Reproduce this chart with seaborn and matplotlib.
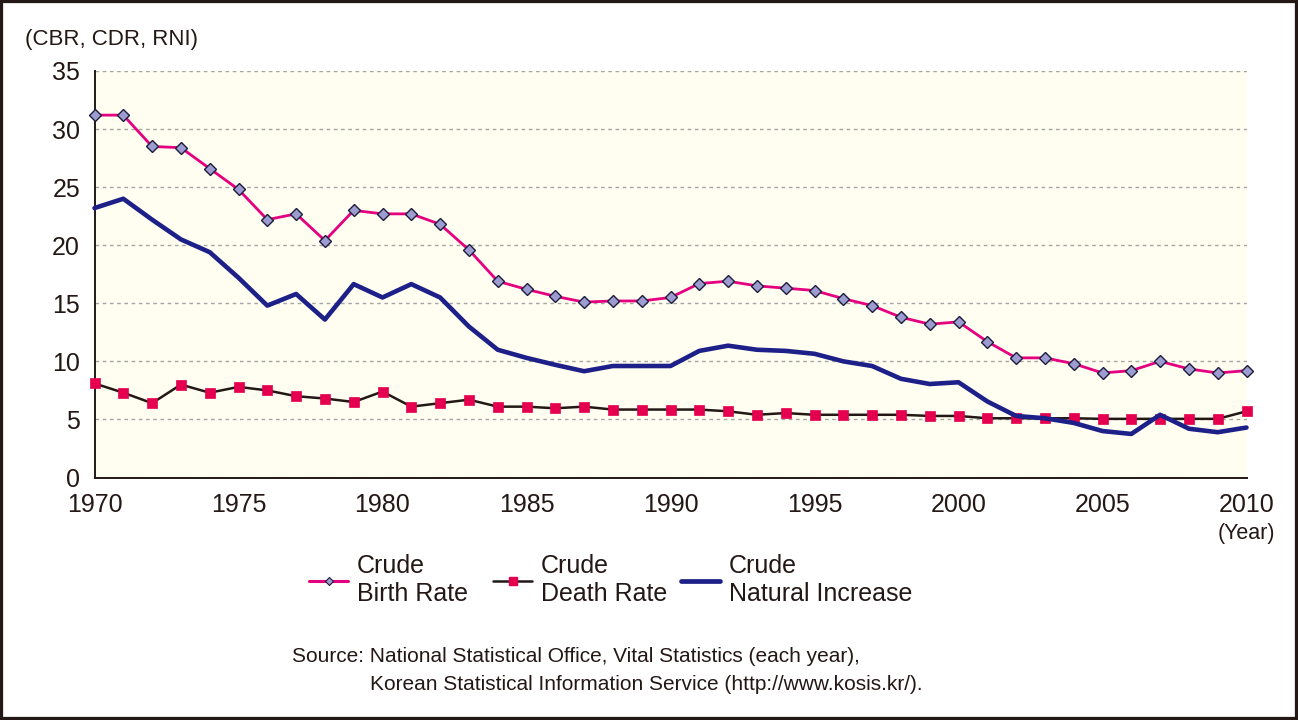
import matplotlib
matplotlib.use("Agg")
import matplotlib.pyplot as plt
import seaborn as sns
import pandas as pd
from matplotlib.lines import Line2D
from matplotlib.patches import Rectangle
from matplotlib import font_manager

# ---------------- data ----------------
years = list(range(1970, 2011))
crude_birth_rate = [31.2, 31.2, 28.5, 28.4, 26.6, 24.8, 22.2, 22.7, 20.4, 23.0,
                    22.7, 22.7, 21.8, 19.6, 16.9, 16.2, 15.6, 15.1, 15.2, 15.2,
                    15.5, 16.7, 16.9, 16.5, 16.3, 16.1, 15.4, 14.8, 13.8, 13.2,
                    13.4, 11.7, 10.3, 10.3, 9.8, 9.0, 9.2, 10.0, 9.35, 9.0, 9.2]
crude_death_rate = [8.1, 7.3, 6.4, 8.0, 7.3, 7.8, 7.5, 7.0, 6.8, 6.5,
                    7.4, 6.1, 6.4, 6.7, 6.1, 6.1, 5.96, 6.1, 5.85, 5.85,
                    5.85, 5.85, 5.7, 5.4, 5.55, 5.4, 5.4, 5.4, 5.4, 5.3,
                    5.3, 5.1, 5.1, 5.1, 5.1, 5.05, 5.05, 5.05, 5.05, 5.05, 5.7]
crude_natural_increase = [23.2, 24.0, 22.2, 20.5, 19.4, 17.2, 14.8, 15.8, 13.6, 16.65,
                          15.5, 16.65, 15.5, 13.0, 11.0, 10.3, 9.7, 9.15, 9.6, 9.6,
                          9.6, 10.9, 11.35, 11.0, 10.9, 10.65, 10.0, 9.6, 8.5, 8.05,
                          8.2, 6.55, 5.3, 5.1, 4.7, 4.0, 3.75, 5.4, 4.2, 3.9, 4.3]
series_labels = ["Crude\nBirth Rate", "Crude\nDeath Rate", "Crude\nNatural Increase"]
x_ticks = [1970, 1975, 1980, 1985, 1990, 1995, 2000, 2005, 2010]
y_ticks = [0, 5, 10, 15, 20, 25, 30, 35]
y_title = "(CBR, CDR, RNI)"
x_unit = "(Year)"
source_line1 = "Source: National Statistical Office, Vital Statistics (each year),"
source_line2 = "Korean Statistical Information Service (http://www.kosis.kr/)."

df = pd.DataFrame({"year": years, "cbr": crude_birth_rate,
                   "cdr": crude_death_rate, "rni": crude_natural_increase})

# ---------------- style ----------------
sns.set_style("white")
plt.rcParams["font.family"] = ["Liberation Sans", "DejaVu Sans"]
TXT = "#231815"
PINK = "#e4007f"
NAVY = "#1d2088"
RED = "#e5004f"

W, H = 1298, 720
fig = plt.figure(figsize=(W / 100, H / 100), dpi=100)
ax = fig.add_axes([94.5 / W, 1 - 477.5 / H, (1246.5 - 94.5) / W, (477.5 - 71) / H])
ax.set_facecolor("#fffef0")

sns.lineplot(data=df, x="year", y="cdr", ax=ax, color=TXT, lw=1.8,
             marker="s", markersize=7.2, markerfacecolor=RED, markeredgecolor=RED,
             markeredgewidth=0.5, clip_on=False, zorder=3)
sns.lineplot(data=df, x="year", y="rni", ax=ax, color=NAVY, lw=3.3,
             clip_on=False, zorder=4)
sns.lineplot(data=df, x="year", y="cbr", ax=ax, color=PINK, lw=2.0,
             marker="D", markersize=6.4, markerfacecolor="#9c9cd0",
             markeredgecolor="#1c1c3c", markeredgewidth=1.0, clip_on=False, zorder=5)

ax.set_xlim(1970, 2010)
ax.set_ylim(0, 35)
ax.set_xticks(x_ticks)
ax.set_yticks(y_ticks)
ax.set_xlabel("")
ax.set_ylabel("")
ax.yaxis.grid(True, linestyle=(0, (2.6, 2.6)), color="#a5a5a5", lw=1.0)
ax.xaxis.grid(False)
ax.set_axisbelow(True)
for s in ["top", "right"]:
    ax.spines[s].set_visible(False)
for s in ["left", "bottom"]:
    ax.spines[s].set_color(TXT)
    ax.spines[s].set_linewidth(1.4)
ax.tick_params(axis="both", direction="in", length=4.5, width=1.0, color=TXT,
               labelsize=18, labelcolor=TXT)
ax.tick_params(axis="y", pad=10.4)
ax.tick_params(axis="x", pad=11.0)

# ---------------- legend ----------------
handles = [
    Line2D([], [], color=PINK, lw=2.2, marker="D", markersize=4.4,
           markerfacecolor="#9c9cd0", markeredgecolor="#1c1c3c", markeredgewidth=0.8),
    Line2D([], [], color=TXT, lw=1.8, marker="s", markersize=6,
           markerfacecolor=RED, markeredgecolor=RED),
    Line2D([], [], color=NAVY, lw=3.4),
]
legend_x = [309, 493, 681]
for h, lab, xp in zip(handles, series_labels, legend_x):
    leg = fig.legend([h], [lab], loc="center left",
                     bbox_to_anchor=(xp / W, 1 - 580 / H),
                     frameon=False, fontsize=18, handlelength=1.56,
                     handletextpad=0.36, borderpad=0, borderaxespad=0,
                     labelcolor=TXT)

# ---------------- texts ----------------
fig.text(25 / W, 1 - 40 / H, y_title, ha="left", va="center", fontsize=16, color=TXT)
fig.text(1275 / W, 1 - 533 / H, x_unit, ha="right", va="center", fontsize=15.5, color=TXT)

names = {f.name for f in font_manager.fontManager.ttflist}
if "Liberation Sans Narrow" in names:
    src_font, src_size = ["Liberation Sans Narrow", "DejaVu Sans"], 16
else:
    src_font, src_size = ["Liberation Sans", "DejaVu Sans"], 15
fig.text(292 / W, 1 - 657 / H, source_line1, ha="left", va="center",
         fontsize=src_size, color=TXT, family=src_font)
fig.text(370 / W, 1 - 684 / H, source_line2, ha="left", va="center",
         fontsize=src_size, color=TXT, family=src_font)

# outer frame
fig.add_artist(Rectangle((0, 0), 1, 1, transform=fig.transFigure, fill=False,
                         edgecolor=TXT, lw=4.5, zorder=10))

fig.savefig("out.png", dpi=100)
